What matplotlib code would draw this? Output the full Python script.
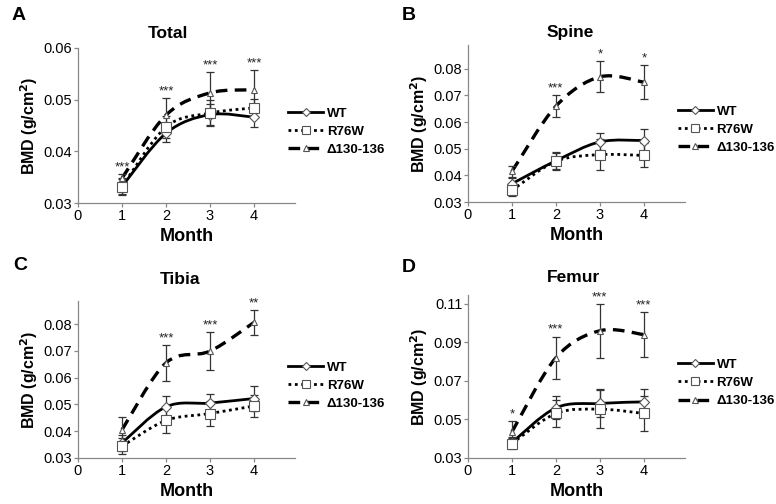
import numpy as np
import matplotlib
matplotlib.use("Agg")
import matplotlib.pyplot as plt
from matplotlib.path import Path
from matplotlib.patches import PathPatch
from matplotlib.lines import Line2D

plt.rcParams['font.family'] = ['Liberation Sans', 'DejaVu Sans']

months = [1, 2, 3, 4]
series_names = ["WT", "R76W", "\u0394130-136"]

# Panel A - Total
total_wt = [0.0332, 0.0435, 0.0471, 0.0466]
total_wt_err = [0.0017, 0.0017, 0.0020, 0.0018]
total_r76w = [0.0332, 0.0447, 0.0474, 0.0484]
total_r76w_err = [0.0015, 0.0022, 0.0025, 0.0018]
total_del = [0.0348, 0.0470, 0.0513, 0.0519]
total_del_err = [0.0008, 0.0033, 0.0040, 0.0038]
total_stars = ["***", "***", "***", "***"]

# Panel B - Spine
spine_wt = [0.0369, 0.0455, 0.0526, 0.0531]
spine_wt_err = [0.0020, 0.0032, 0.0032, 0.0045]
spine_r76w = [0.0344, 0.0453, 0.0478, 0.0475]
spine_r76w_err = [0.0020, 0.0032, 0.0058, 0.0045]
spine_del = [0.0415, 0.0660, 0.0770, 0.0750]
spine_del_err = [0.0020, 0.0042, 0.0058, 0.0063]
spine_stars = ["", "***", "*", "*"]

# Panel C - Tibia
tibia_wt = [0.0356, 0.0491, 0.0505, 0.0522]
tibia_wt_err = [0.0030, 0.0040, 0.0033, 0.0047]
tibia_r76w = [0.0344, 0.0440, 0.0466, 0.0494]
tibia_r76w_err = [0.0029, 0.0046, 0.0047, 0.0041]
tibia_del = [0.0405, 0.0655, 0.0699, 0.0806]
tibia_del_err = [0.0048, 0.0068, 0.0070, 0.0047]
tibia_stars = ["", "***", "***", "**"]

# Panel D - Femur
femur_wt = [0.0380, 0.0560, 0.0583, 0.0591]
femur_wt_err = [0.0030, 0.0060, 0.0073, 0.0065]
femur_r76w = [0.0375, 0.0531, 0.0553, 0.0531]
femur_r76w_err = [0.0030, 0.0070, 0.0100, 0.0092]
femur_del = [0.0435, 0.0820, 0.0960, 0.0940]
femur_del_err = [0.0055, 0.0110, 0.0140, 0.0115]
femur_stars = ["*", "***", "***", "***"]

W, H = 776.0, 504.0

panels = [
    dict(letter="A", title="Total", ylim=(0.03, 0.06), yticks=[0.03, 0.04, 0.05, 0.06],
         data=[(total_wt, total_wt_err), (total_r76w, total_r76w_err), (total_del, total_del_err)],
         stars=total_stars, rect=[0.1005, 0.597, 0.2795, 0.308],
         letter_px=(19, 16), title_px=(168, 33)),
    dict(letter="B", title="Spine", ylim=(0.03, 0.089), yticks=[0.03, 0.04, 0.05, 0.06, 0.07, 0.08],
         data=[(spine_wt, spine_wt_err), (spine_r76w, spine_r76w_err), (spine_del, spine_del_err)],
         stars=spine_stars, rect=[0.603, 0.599, 0.2795, 0.312],
         letter_px=(409, 16), title_px=(570, 32)),
    dict(letter="C", title="Tibia", ylim=(0.03, 0.0887), yticks=[0.03, 0.04, 0.05, 0.06, 0.07, 0.08],
         data=[(tibia_wt, tibia_wt_err), (tibia_r76w, tibia_r76w_err), (tibia_del, tibia_del_err)],
         stars=tibia_stars, rect=[0.1005, 0.0913, 0.2795, 0.312],
         letter_px=(20, 265), title_px=(180, 279)),
    dict(letter="D", title="Femur", ylim=(0.03, 0.1147), yticks=[0.03, 0.05, 0.07, 0.09, 0.11],
         data=[(femur_wt, femur_wt_err), (femur_r76w, femur_r76w_err), (femur_del, femur_del_err)],
         stars=femur_stars, rect=[0.603, 0.0913, 0.2795, 0.324],
         letter_px=(409, 267), title_px=(573, 277)),
]

line_styles = ['-', (0, (1, 1.3)), (0, (3.5, 2.2))]
line_widths = [2.0, 2.0, 2.4]
markers = ['D', 's', '^']
marker_sizes = [5, 7, 5]


def smooth_path(xs, ys):
    # Excel-style smoothed line: cubic Bezier segments through the data points
    pts = list(zip(xs, ys))
    verts = [pts[0]]
    codes = [Path.MOVETO]
    n = len(pts)
    for i in range(n - 1):
        p0 = pts[i - 1] if i > 0 else pts[i]
        p1 = pts[i]
        p2 = pts[i + 1]
        p3 = pts[i + 2] if i + 2 < n else pts[i + 1]
        c1 = (p1[0] + (p2[0] - p0[0]) / 6.0, p1[1] + (p2[1] - p0[1]) / 6.0)
        c2 = (p2[0] - (p3[0] - p1[0]) / 6.0, p2[1] - (p3[1] - p1[1]) / 6.0)
        verts += [c1, c2, p2]
        codes += [Path.CURVE4] * 3
    return Path(verts, codes)


fig = plt.figure(figsize=(7.76, 5.04), dpi=100)

for p in panels:
    ax = fig.add_axes(p["rect"])
    for k, (vals, errs) in enumerate(p["data"]):
        patch = PathPatch(smooth_path(months, vals), facecolor='none', edgecolor='black',
                          lw=line_widths[k], linestyle=line_styles[k], zorder=2,
                          capstyle='butt')
        ax.add_patch(patch)
        ax.errorbar(months, vals, yerr=errs, fmt='none', ecolor='#333333', elinewidth=0.9,
                    capsize=3, capthick=0.9, zorder=3)
        ax.plot(months, vals, linestyle='none', marker=markers[k], markersize=marker_sizes[k],
                markerfacecolor='white', markeredgecolor='#555555', markeredgewidth=0.8, zorder=4)
    # significance stars above the highest error bar
    for i, s in enumerate(p["stars"]):
        if not s:
            continue
        top = max(v[i] + e[i] for v, e in p["data"])
        ax.annotate(s, (months[i], top), xytext=(0, 0.5), textcoords='offset points',
                    ha='center', va='bottom', fontsize=9.5, color='#222222')
    ax.set_xlim(0, 4.93)
    ax.set_ylim(*p["ylim"])
    ax.set_xticks([0, 1, 2, 3, 4])
    ax.set_yticks(p["yticks"])
    ax.set_yticklabels([f"{t:.2f}" for t in p["yticks"]])
    for side in ['top', 'right']:
        ax.spines[side].set_visible(False)
    for side in ['left', 'bottom']:
        ax.spines[side].set_color('#888888')
        ax.spines[side].set_linewidth(0.9)
    ax.tick_params(axis='both', colors='#888888', labelcolor='black', labelsize=10.5,
                   length=3, width=0.9, direction='out', pad=1)
    ax.set_xlabel("Month", fontsize=13, fontweight='bold', labelpad=4)
    ax.set_ylabel("BMD (g/cm$^\\mathbf{2}$)", fontsize=11.5, fontweight='bold', labelpad=3)
    fig.text(p["title_px"][0] / W, 1 - p["title_px"][1] / H, p["title"], fontsize=12.5,
             fontweight='bold', ha='center', va='center')
    fig.text(p["letter_px"][0] / W, 1 - p["letter_px"][1] / H, p["letter"], fontsize=14,
             fontweight='bold', ha='center', va='center')
    handles = [Line2D([], [], color='black', lw=line_widths[k], linestyle=line_styles[k],
                      marker=markers[k], markersize=marker_sizes[k] - 1, markerfacecolor='white',
                      markeredgecolor='#555555', markeredgewidth=0.8)
               for k in range(3)]
    leg = ax.legend(handles, series_names, loc='center left', bbox_to_anchor=(0.97, 0.46),
                    frameon=False, handlelength=2.6, handletextpad=0.3, labelspacing=0.45,
                    borderpad=0, borderaxespad=0, prop={'weight': 'bold', 'size': 9.5})

fig.savefig("out.png", dpi=100)
